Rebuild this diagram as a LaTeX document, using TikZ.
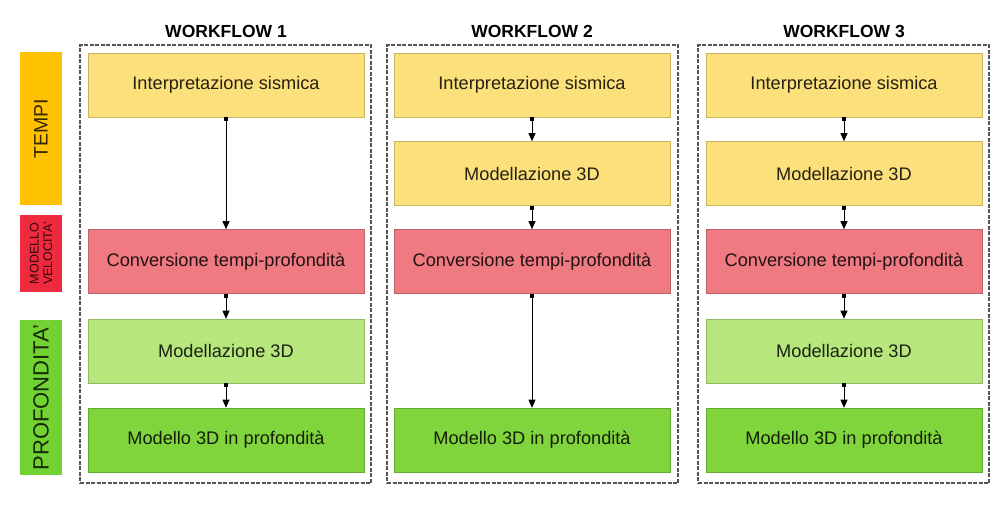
\documentclass[tikz,border=0pt]{standalone}
\usepackage{fontspec}
\setmainfont{Liberation Sans}
\usetikzlibrary{arrows.meta}
\definecolor{ybox}{HTML}{FCE07C}
\definecolor{rbox}{HTML}{EF7A82}
\definecolor{lgbox}{HTML}{B6E67C}
\definecolor{gbox}{HTML}{80D43C}
\definecolor{tempicol}{HTML}{FFC200}
\definecolor{velcol}{HTML}{EE2A3E}
\definecolor{profcol}{HTML}{72D232}
\definecolor{framecol}{HTML}{555555}
\begin{document}
\begin{tikzpicture}[x=1pt,y=-1pt,
  stepbox/.style={draw=#1!80!black, line width=0.6pt, fill=#1, minimum width=276pt, minimum height=64pt, inner sep=0pt, font=\fontsize{18.2}{21}\selectfont, text=black!85!#1},
  wframe/.style={draw=framecol, line width=1.3pt, dash pattern=on 4pt off 1.5pt, minimum width=291pt, minimum height=438pt, inner sep=0pt},
  wtitle/.style={font=\bfseries\fontsize{17.5}{20}\selectfont},
  sidebox/.style={fill=#1, rotate=90, minimum height=42pt, inner sep=0pt, text=black!80!#1},
  conn/.style={line width=0.8pt, {Square[length=3.5pt,width=3.5pt]}-{Triangle[length=8pt,width=7pt]}}
]
\useasboundingbox (0,0) rectangle (1008,517);

% side labels
\node (tempi) [sidebox=tempicol, minimum width=153pt, font=\fontsize{19.5}{22}\selectfont] at (41,128.5) {TEMPI};
\node (vel) [sidebox=velcol, minimum width=77pt, align=center, font=\fontsize{12.5}{13.5}\selectfont] at (41,253.5) {MODELLO\\VELOCITA'};
\node (prof) [sidebox=profcol, minimum width=155pt, font=\fontsize{22}{25}\selectfont] at (41,397.5) {PROFONDITA'};

% frames
\node (f1) [wframe] at (225.5,264) {};
\node (f2) [wframe] at (532.5,264) {};
\node (f3) [wframe] at (843.5,264) {};

% titles
\node (t1) [wtitle] at (226,31) {WORKFLOW 1};
\node (t2) [wtitle] at (532,31) {WORKFLOW 2};
\node (t3) [wtitle] at (844,31) {WORKFLOW 3};

% workflow 1
\node (a1) [stepbox=ybox] at (226,85) {Interpretazione sismica};
\node (c1) [stepbox=rbox] at (226,261.5) {Conversione tempi-profondità};
\node (m1) [stepbox=lgbox] at (226,351) {Modellazione 3D};
\node (p1) [stepbox=gbox] at (226,440) {Modello 3D in profondità};

% workflow 2
\node (a2) [stepbox=ybox] at (532,85) {Interpretazione sismica};
\node (b2) [stepbox=ybox] at (532,173.5) {Modellazione 3D};
\node (c2) [stepbox=rbox] at (532,261.5) {Conversione tempi-profondità};
\node (p2) [stepbox=gbox] at (532,440) {Modello 3D in profondità};

% workflow 3
\node (a3) [stepbox=ybox] at (844,85) {Interpretazione sismica};
\node (b3) [stepbox=ybox] at (844,173.5) {Modellazione 3D};
\node (c3) [stepbox=rbox] at (844,261.5) {Conversione tempi-profondità};
\node (m3) [stepbox=lgbox] at (844,351) {Modellazione 3D};
\node (p3) [stepbox=gbox] at (844,440) {Modello 3D in profondità};

% connectors
\draw[conn] (a1.south) -- (c1.north);
\draw[conn] (c1.south) -- (m1.north);
\draw[conn] (m1.south) -- (p1.north);

\draw[conn] (a2.south) -- (b2.north);
\draw[conn] (b2.south) -- (c2.north);
\draw[conn] (c2.south) -- (p2.north);

\draw[conn] (a3.south) -- (b3.north);
\draw[conn] (b3.south) -- (c3.north);
\draw[conn] (c3.south) -- (m3.north);
\draw[conn] (m3.south) -- (p3.north);
\end{tikzpicture}
\end{document}
